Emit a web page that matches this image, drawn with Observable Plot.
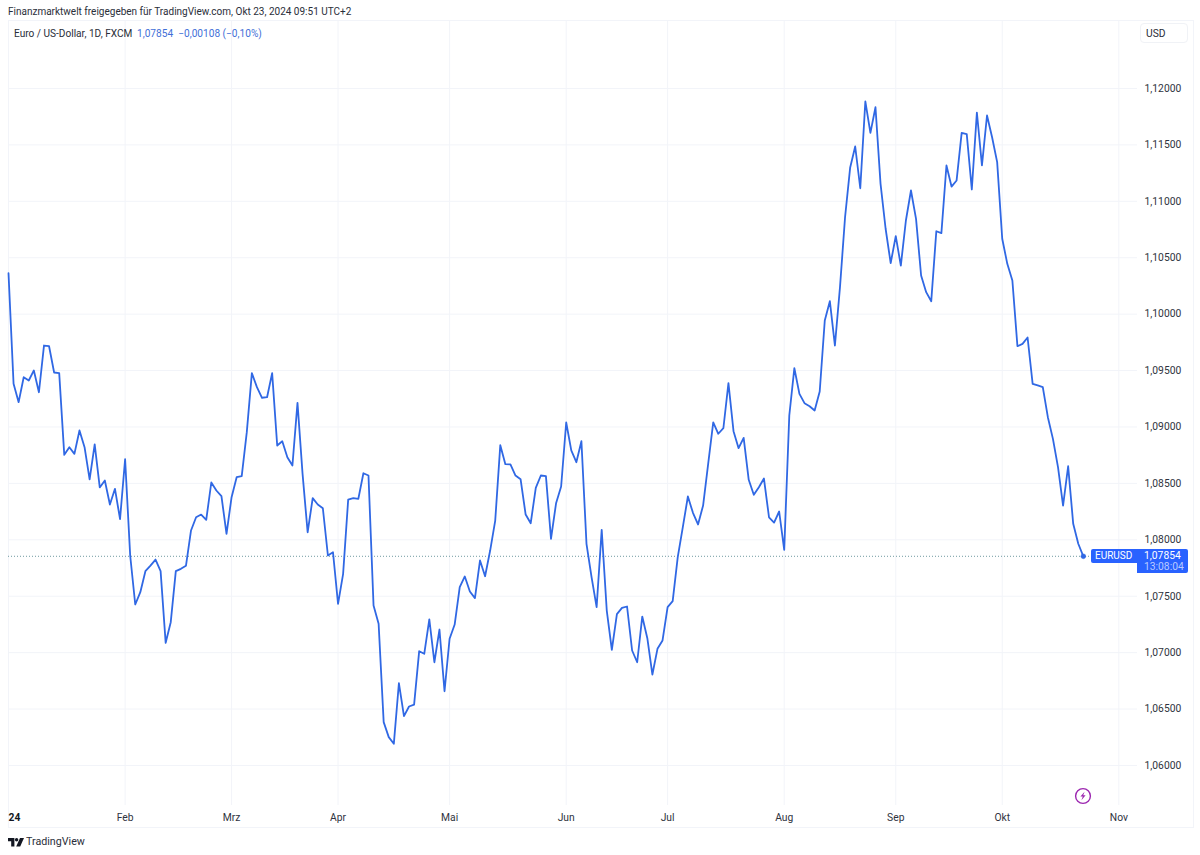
<!DOCTYPE html>
<html lang="de">
<head>
<meta charset="utf-8">
<script src="https://cdn.jsdelivr.net/npm/d3@7"></script>
<script src="https://cdn.jsdelivr.net/npm/@observablehq/plot@0.6"></script>
<style>
  html,body{margin:0;padding:0;background:#fff;}
  #wrap{position:relative;width:1200px;height:855px;overflow:hidden;font-family:Roboto,"Liberation Sans",sans-serif;color:#131722;}
  #wrap svg{display:block;position:absolute;left:0;top:0;background:transparent;}
  .ov{position:absolute;white-space:pre;line-height:1;}
</style>
</head>
<body>
<div id="wrap"></div>
<script>
// Daily closes, EUR/USD, trading-day sequence from 1 Jan 2024 to 23 Oct 2024
const closeValues = [
1.10363,1.09383,1.09220,1.09441,1.09412,1.09501,1.09308,1.09722,1.09716,1.09483,
1.09477,1.08753,1.08821,1.08762,1.08969,1.08821,1.08535,1.08845,1.08464,1.08526,
1.08313,1.08452,1.08183,1.08714,1.07861,1.07427,1.07536,1.07722,1.07772,1.07825,
1.07722,1.07087,1.07270,1.07722,1.07743,1.07770,1.08083,1.08200,1.08224,1.08177,
1.08508,1.08437,1.08387,1.08053,1.08378,1.08555,1.08564,1.08954,1.09477,1.09353,
1.09259,1.09264,1.09477,1.08836,1.08874,1.08732,1.08659,1.09214,1.08585,1.08067,
1.08369,1.08313,1.08280,1.07861,1.07890,1.07433,1.07699,1.08357,1.08369,1.08363,
1.08590,1.08570,1.07418,1.07256,1.06384,1.06251,1.06192,1.06729,1.06437,1.06523,
1.06540,1.07013,1.06990,1.07294,1.06915,1.07205,1.06658,1.07123,1.07249,1.07580,
1.07675,1.07542,1.07483,1.07817,1.07677,1.07905,1.08171,1.08839,1.08670,1.08668,
1.08570,1.08537,1.08224,1.08147,1.08461,1.08570,1.08564,1.08009,1.08324,1.08473,
1.09040,1.08792,1.08688,1.08874,1.07965,1.07669,1.07403,1.08089,1.07373,1.07025,
1.07342,1.07397,1.07409,1.07019,1.06915,1.07320,1.07128,1.06806,1.07034,1.07108,
1.07403,1.07456,1.07846,1.08112,1.08384,1.08239,1.08136,1.08304,1.08674,1.09040,
1.08940,1.08989,1.09388,1.08963,1.08812,1.08904,1.08532,1.08399,1.08466,1.08543,
1.08200,1.08153,1.08251,1.07911,1.09102,1.09521,1.09294,1.09211,1.09184,1.09146,
1.09315,1.09944,1.10115,1.09722,1.10239,1.10859,1.11297,1.11486,1.11116,1.11885,
1.11607,1.11834,1.11155,1.10757,1.10452,1.10691,1.10431,1.10830,1.11096,1.10845,
1.10343,1.10195,1.10115,1.10735,1.10718,1.11318,1.11131,1.11185,1.11607,1.11595,
1.11105,1.11787,1.11318,1.11761,1.11568,1.11347,1.10668,1.10446,1.10298,1.09716,
1.09737,1.09793,1.09383,1.09368,1.09353,1.09087,1.08895,1.08644,1.08304,1.08652,
1.08142,1.07965,1.07854
];
const monthIndex  = [0,23,44,65,87,110,130,153,175,196,219];
const monthLabels = ["24","Feb","Mrz","Apr","Mai","Jun","Jul","Aug","Sep","Okt","Nov"];
const priceTicks  = [1.06,1.065,1.07,1.075,1.08,1.085,1.09,1.095,1.10,1.105,1.11,1.115,1.12];
const lastClose   = 1.07854;
const xDomain = [0, 222.68];
const yDomain = [1.056453, 1.126027];

const lineColor = "#3068e4";
const gridColor = "#f2f4f9";
const labelColor = "#2f3340";
const fmtPrice = d => d3.format(".5f")(d).replace(".", ",");

const rows = closeValues.map((close, i) => ({i, close}));
const monthName = new Map(monthIndex.map((m, k) => [m, monthLabels[k]]));

const chart = Plot.plot({
  width: 1200,
  height: 855,
  marginLeft: 8,
  marginRight: 63,
  marginTop: 20,
  marginBottom: 50,
  style: {fontFamily: 'Roboto,"Liberation Sans",sans-serif', fontSize: "10.3px", color: labelColor, background: "transparent", overflow: "visible"},
  x: {type: "linear", domain: xDomain, label: null},
  y: {type: "linear", domain: yDomain, label: null},
  marks: [
    Plot.gridX({ticks: monthIndex, stroke: gridColor, strokeOpacity: 1}),
    Plot.gridY({ticks: priceTicks, stroke: gridColor, strokeOpacity: 1}),
    Plot.axisY({anchor: "right", ticks: priceTicks, tickFormat: fmtPrice, tickSize: 0, tickPadding: 7, label: null, textAnchor: "start", fill: labelColor}),
    Plot.axisX({anchor: "bottom", ticks: monthIndex.slice(1), tickFormat: d => monthName.get(d), tickSize: 0, tickPadding: 8, label: null, fill: labelColor}),
    Plot.axisX({anchor: "bottom", ticks: [0], tickFormat: () => monthLabels[0], tickSize: 0, tickPadding: 8, label: null, fontWeight: "bold", textAnchor: "start", fill: "#131722"}),
    Plot.ruleY([lastClose], {stroke: "#6f9aa0", strokeWidth: 1, strokeDasharray: "1 2"}),
    Plot.line(rows, {x: "i", y: "close", stroke: lineColor, strokeWidth: 1.8, curve: "linear"}),
    Plot.dot(rows.slice(-1), {x: "i", y: "close", r: 2.4, fill: lineColor, stroke: lineColor, strokeWidth: 0.5})
  ]
});

const wrap = document.getElementById("wrap");
const yScale = chart.scale("y");
const lastY = yScale.apply(lastClose);

function addEl(html) { const t = document.createElement("template"); t.innerHTML = html.trim(); const el = t.content.firstChild; wrap.appendChild(el); return el; }

// outer frame behind the plot
addEl(`<div style="position:absolute;left:7.5px;top:20px;width:1184px;height:806px;border:1px solid #f2f4f9;box-sizing:content-box"></div>`);
wrap.appendChild(chart);

addEl(`<div class="ov" style="left:8px;top:7px;font-size:10px;color:#2a2e39">Finanzmarktwelt freigegeben für TradingView.com, Okt 23, 2024 09:51 UTC+2</div>`);
addEl(`<div class="ov" style="left:14px;top:28.5px;font-size:10.1px;color:#2a2e39">Euro / US-Dollar, 1D, FXCM</div>`);
addEl(`<div class="ov" style="left:137px;top:28.5px;font-size:10.15px;color:#3f6fd8">1,07854  −0,00108 (−0,10%)</div>`);

// currency button
addEl(`<div style="position:absolute;left:1140px;top:23px;width:48px;height:20px;border:1px solid #f0f2f6;border-radius:4px;box-sizing:border-box;background:#fff"></div>`);
addEl(`<div class="ov" style="left:1146px;top:29px;font-size:10.3px;color:#2a2e39">USD</div>`);

// last-price tags
addEl(`<div style="position:absolute;left:1091px;top:${lastY - 6.5}px;width:46px;height:14px;background:#2962ff;border-radius:2px 0 0 2px"></div>`);
addEl(`<div class="ov" style="left:1095px;top:${lastY - 4.5}px;font-size:10px;color:#fff">EURUSD</div>`);
addEl(`<div style="position:absolute;left:1137px;top:${lastY - 6.5}px;width:51px;height:24px;background:#2962ff;border-radius:0 2px 2px 0"></div>`);
addEl(`<div class="ov" style="left:1144px;top:${lastY - 5}px;font-size:10.3px;color:#fff">${fmtPrice(lastClose)}</div>`);
addEl(`<div class="ov" style="left:1144px;top:${lastY + 6.5}px;font-size:10.3px;color:#b9cbff">13:08:04</div>`);

// lightning icon
addEl(`<svg style="position:absolute;left:1074px;top:787px" width="18" height="18" viewBox="0 0 18 18"><circle cx="9" cy="9" r="7.4" fill="#fff" stroke="#9c27b0" stroke-width="1.4"/><path d="M10.6 4.8 L6.4 9.6 L8.8 9.6 L7.4 13.2 L11.6 8.3 L9.2 8.3 Z" fill="#9c27b0"/></svg>`);

// footer brand
addEl(`<svg style="position:absolute;left:8px;top:838px" width="16" height="9" viewBox="0 0 16 9"><path d="M0 0H6.4V8.6H3.2V3.2H0Z" fill="#131722"/><circle cx="8.6" cy="1.7" r="1.7" fill="#131722"/><path d="M12 0H16L12.2 8.6H8.2Z" fill="#131722"/></svg>`);
addEl(`<div class="ov" style="left:26px;top:836.5px;font-size:10.7px;color:#2a2e39">TradingView</div>`);
</script>
</body>
</html>
